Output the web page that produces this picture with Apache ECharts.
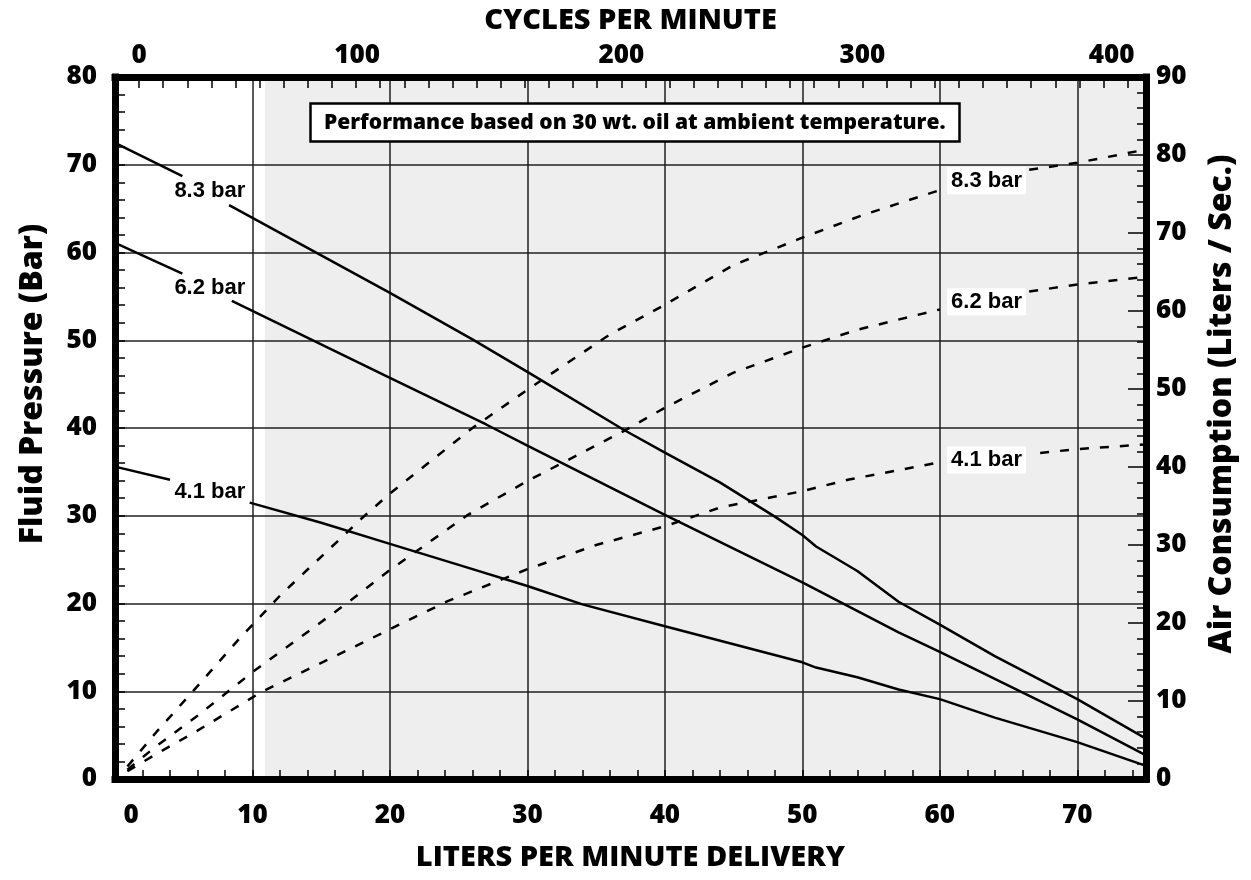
<!DOCTYPE html>
<html>
<head>
<meta charset="utf-8">
<script src="https://cdn.jsdelivr.net/npm/echarts@6/dist/echarts.min.js"></script>
<style>
  html, body { margin: 0; padding: 0; background: #fff; }
  #chart { width: 1251px; height: 880px; }
</style>
</head>
<body>
<div id="chart"></div>
<script>
  // fluid pressure (bar) vs delivery (L/min), one curve per air inlet pressure
  // [x, '-'] marks the break where the curve label sits
  const press83 = [[0,72.5],[4.9,68.7],[6.5,'-'],[8.3,65.4],[20,55.4],[26,50.1],[30,46.4],[37,39.8],[40,37.2],[44,33.8],[48,29.9],[50,27.8],[51,26.5],[54,23.7],[57,20.2],[60,17.6],[64,14.0],[70,9.1],[75,4.6]]
  const press62 = [[0,61.1],[4.9,57.6],[6.5,'-'],[8.5,54.5],[20,45.7],[27,40.4],[30,38.0],[40,30.1],[50,22.4],[57,16.7],[60,14.5],[64,11.4],[70,6.8],[75,2.7]]
  const press41 = [[0,35.6],[4.0,34.1],[6.5,'-'],[9.8,31.5],[15,29.2],[20,26.8],[25,24.4],[30,22.0],[34,19.9],[40,17.4],[50,13.3],[51,12.7],[54,11.6],[57,10.2],[60,9.1],[64,7.0],[70,4.2],[75,1.5]]

  // air consumption (L/s) vs delivery (L/min)
  const air83 = [[0.9,1.6],[3,6.0],[6,11.9],[9,17.9],[12,23.5],[18,33.5],[20,36.6],[26,45.0],[30,49.9],[36,57.0],[40,60.8],[45,65.9],[50,69.4],[54.4,72.3],[60,75.5],[63,'-'],[66.5,78.1],[70,79.0],[75,80.7]]
  const air62 = [[0.9,1.2],[3,4.2],[6,8.1],[10,13.7],[17,22.7],[20,26.8],[25.7,33.9],[30,38.2],[37,44.6],[40,47.6],[45,52.1],[50,55.3],[54,57.6],[60,60.2],[63,'-'],[66.5,62.5],[70,63.4],[75,64.4]]
  const air41 = [[0.9,1.0],[3,3.2],[6,6.2],[10.6,11.1],[17,16.6],[20,19.2],[24.2,22.8],[30,26.9],[35,30.0],[40,32.4],[44,34.8],[50,36.9],[53.4,38.4],[60,40.6],[63,'-'],[67.3,41.8],[70,42.3],[75,42.9]]

  const curveNames = ['8.3 bar', '6.2 bar', '4.1 bar']
  // label anchor points [x, y] in data units
  const pressLabelAt = [[6.9,67.0],[6.9,56.0],[6.9,32.7]]
  const airLabelAt = [[63.4,76.7],[63.4,61.2],[63.4,40.9]]

  const shadeFrom = 10.9
  const lpmMax = 75
  const cpmMin = -10, cpmMax = 417.6
  const noteText = 'Performance based on 30 wt. oil at ambient temperature.'

  const FONT = 'Open Sans'
  const W = 800
  const tickFont = { fontFamily: FONT, fontWeight: W, fontSize: 26, color: '#000' }
  const nameFont = { fontFamily: FONT, fontWeight: W, fontSize: 29, color: '#000' }
  const sideNameFont = { fontFamily: FONT, fontWeight: W, fontSize: 32, color: '#000' }
  const heavyLine = { color: '#000', width: 7, cap: 'square' }

  const chart = echarts.init(document.getElementById('chart'), null, { renderer: 'canvas' })

  function curveLabel(pos, name, boxed) {
    return {
      symbol: 'circle', symbolSize: 0, silent: true,
      label: {
        show: true, position: 'inside', formatter: '{b}',
        fontFamily: "'Liberation Sans Narrow', 'Liberation Sans', Arial",
        fontWeight: 'bold', fontSize: 22, color: '#000',
        backgroundColor: boxed ? '#fff' : 'transparent', padding: [3, 4, 2, 4]
      },
      data: [{ name: name, coord: pos }]
    }
  }

  function pressSeries(data, i) {
    return {
      type: 'line', name: curveNames[i], data: data, xAxisIndex: 0, yAxisIndex: 0,
      symbol: 'none', connectNulls: false,
      lineStyle: { color: '#000', width: 2.5 },
      markPoint: curveLabel(pressLabelAt[i], curveNames[i], false)
    }
  }
  function airSeries(data, i) {
    return {
      type: 'line', name: curveNames[i] + ' air', data: data, xAxisIndex: 0, yAxisIndex: 1,
      symbol: 'none', connectNulls: false,
      lineStyle: { color: '#000', width: 2.5, type: [9, 11] },
      markPoint: curveLabel(airLabelAt[i], curveNames[i], true)
    }
  }

  const series = [
    pressSeries(press83, 0), pressSeries(press62, 1), pressSeries(press41, 2),
    airSeries(air83, 0), airSeries(air62, 1), airSeries(air41, 2)
  ]
  // grey band
  series[0].markArea = {
    silent: true,
    itemStyle: { color: 'rgba(0,0,0,0.065)' },
    data: [[{ xAxis: shadeFrom }, { xAxis: lpmMax }]]
  }

  const option = {
    animation: false,
    backgroundColor: '#fff',
    title: {
      text: noteText,
      left: 310, top: 103,
      padding: [8, 14, 7, 14],
      backgroundColor: '#fff', borderColor: '#000', borderWidth: 2.5,
      textStyle: { fontFamily: FONT, fontWeight: W, fontSize: 21, color: '#000', lineHeight: 24 }
    },
    grid: { left: 115, right: 105, top: 77, bottom: 101, containLabel: false },
    xAxis: [
      {
        type: 'value', position: 'bottom', min: 0, max: lpmMax, interval: 10,
        name: 'LITERS PER MINUTE DELIVERY', nameLocation: 'middle', nameGap: 64,
        nameTextStyle: nameFont,
        axisLine: { show: true, onZero: false, lineStyle: heavyLine },
        axisTick: { show: false },
        axisLabel: {
          ...tickFont, margin: 24, showMaxLabel: false,
          formatter: v => (v === 0 ? '{z|0}' : String(v)),
          rich: { z: { ...tickFont, padding: [0, 0, 0, 32] } }
        },
        splitLine: { show: true, lineStyle: { color: '#222', width: 1.5 } }
      },
      {
        type: 'value', position: 'top', min: cpmMin, max: cpmMax, interval: 10,
        name: 'CYCLES PER MINUTE', nameLocation: 'middle', nameGap: 42,
        nameTextStyle: nameFont,
        axisLine: { show: true, onZero: false, lineStyle: heavyLine },
        axisTick: { show: true, inside: true, length: 11, lineStyle: { color: '#000', width: 1.5 } },
        axisLabel: {
          ...tickFont, margin: 8, showMinLabel: false, showMaxLabel: false,
          formatter: v => {
            if (v === 100) return '{h|100}'
            if (v === 400) return '{k|400}'
            return v % 100 === 0 ? String(v) : ''
          },
          rich: {
            h: { ...tickFont, padding: [0, 46, 0, 0] },
            k: { ...tickFont, padding: [0, 0, 0, 16] }
          }
        },
        splitLine: { show: false }
      },
      {
        // minor ticks on the delivery axis, every 2 L/min
        type: 'value', position: 'bottom', min: 0, max: lpmMax, interval: 2,
        axisLine: { show: false },
        axisTick: { show: true, inside: true, length: 9, lineStyle: { color: '#000', width: 1.5 } },
        axisLabel: { show: false },
        splitLine: { show: false }
      }
    ],
    yAxis: [
      {
        type: 'value', position: 'left', min: 0, max: 80, interval: 10,
        name: 'Fluid Pressure (Bar)', nameLocation: 'middle', nameGap: 66,
        nameTextStyle: { ...sideNameFont, padding: [0, 0, 0, 88] },
        axisLine: { show: true, onZero: false, lineStyle: heavyLine },
        axisTick: { show: true, inside: true, length: 10, lineStyle: { color: '#000', width: 1.5 } },
        minorTick: { show: true, splitNumber: 5, length: 10, lineStyle: { color: '#000', width: 1.5 } },
        axisLabel: { ...tickFont, margin: 18 },
        splitLine: { show: true, lineStyle: { color: '#222', width: 1.5 } }
      },
      {
        type: 'value', position: 'right', min: 0, max: 90, interval: 10,
        name: 'Air Consumption (Liters / Sec.)', nameLocation: 'middle', nameGap: 60,
        nameTextStyle: { ...sideNameFont, padding: [0, 0, 0, 48] },
        axisLine: { show: true, onZero: false, lineStyle: heavyLine },
        axisTick: { show: true, inside: true, length: 18, lineStyle: { color: '#000', width: 1.5 } },
        minorTick: { show: true, splitNumber: 5, length: 9, lineStyle: { color: '#000', width: 1.5 } },
        axisLabel: { ...tickFont, margin: 10 },
        splitLine: { show: false }
      }
    ],
    series: series
  }

  chart.setOption(option)
</script>
</body>
</html>
